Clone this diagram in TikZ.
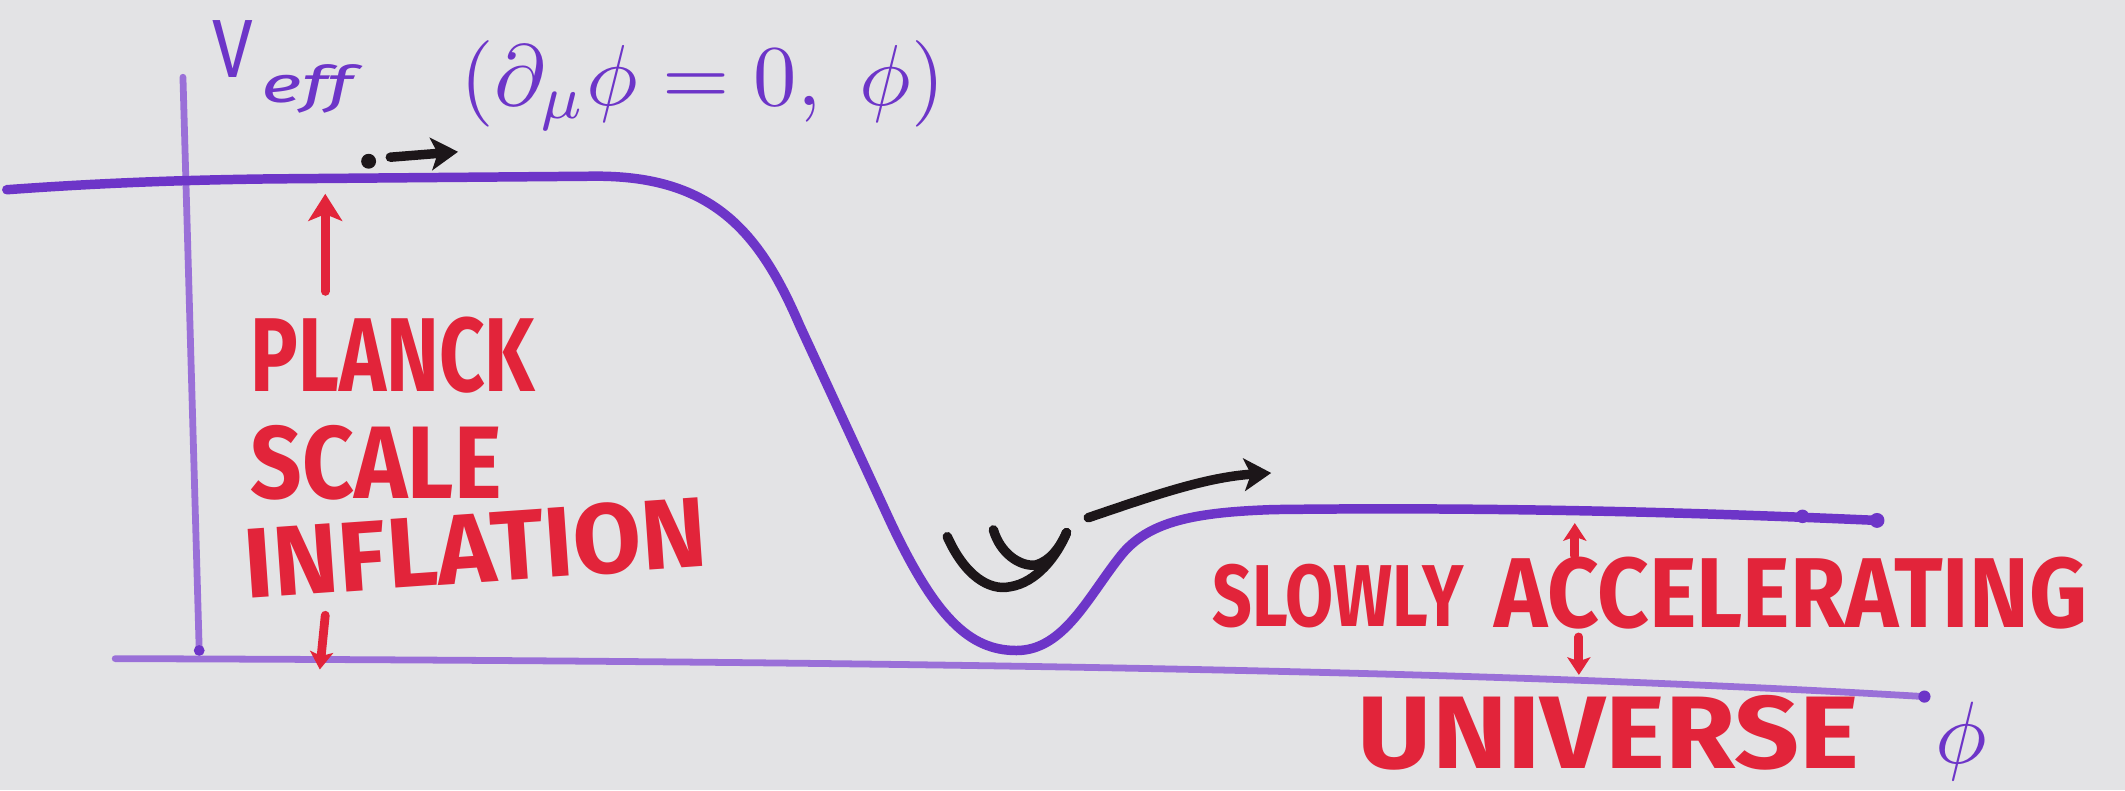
\documentclass[tikz,border=0pt]{standalone}
\usepackage{fontspec}
\setmainfont{Fira Sans}
\usetikzlibrary{arrows.meta}
\definecolor{paper}{HTML}{E3E3E5}
\definecolor{mviolet}{HTML}{6D35C8}
\definecolor{maxis}{HTML}{9A70D8}
\definecolor{mred}{HTML}{E2243A}
\definecolor{mblack}{HTML}{1C1619}
\newcommand{\hw}[3]{\resizebox{#1pt}{#2pt}{\bfseries #3}}
\tikzset{
  curve/.style={draw=mviolet, line width=7pt, line cap=round, line join=round},
  axisline/.style={draw=maxis, line width=5pt, line cap=round},
  blk/.style={draw=mblack, line width=7pt, line cap=round, line join=round},
  blackarrow/.style={blk, -{Stealth[length=20pt,width=24pt,inset=5pt]}},
  redarrow/.style={draw=mred, line width=6.5pt, line cap=round, -{Stealth[length=20pt,width=25pt,inset=5pt]}},
  redsmall/.style={draw=mred, line width=6.5pt, line cap=round, -{Stealth[length=13pt,width=17pt,inset=3pt]}},
  lbl/.style={inner sep=0pt, outer sep=0pt, text=mred},
  plbl/.style={inner sep=0pt, outer sep=0pt, text=mviolet}
}
\begin{document}
\begin{tikzpicture}[x=1pt,y=-1pt]
\fill[paper] (0,0) rectangle (1568,583);
\useasboundingbox (0,0) rectangle (1568,583);

% axes
\coordinate (vt) at (135,57);
\coordinate (vb) at (147,480);
\draw[axisline] (vt) -- (vb);
\fill[mviolet] (vb) circle (4);
\coordinate (hl) at (85,486);
\coordinate (hr) at (1420,514);
\draw[axisline] (hl) .. controls (700,488) and (1100,495) .. (hr);
\fill[mviolet] (hr) circle (4.5);

% potential curve
\coordinate (c0) at (5,140);
\coordinate (c1) at (1385,384);
\draw[curve] (c0) .. controls (60,136) and (120,133) .. (200,132) -- (440,130)
  .. controls (525,130) and (560,170) .. (590,240) -- (657,385)
  .. controls (690,455) and (715,480) .. (750,480)
  .. controls (785,480) and (803,440) .. (827,410)
  .. controls (847,385) and (880,378) .. (940,376)
  .. controls (1100,374) and (1250,378) .. (c1);
\fill[mviolet] (1330,381) circle (5);
\fill[mviolet] (c1) circle (5.5);

% labels in purple
\node[plbl, anchor=north west] (V) at (157,15) {\resizebox{30pt}{42pt}{$\mathrm{V}$}};
\node[plbl, anchor=north west] (eff) at (193,48) {\resizebox{68pt}{28pt}{$\mathit{eff}$}};
\node[plbl, anchor=north west] (cond) at (340,30) {\resizebox{357pt}{!}{$(\partial_{\mu}\phi=0,\;\phi)$}};
\node[plbl, anchor=north west] (phi) at (1428,518) {\resizebox*{38pt}{58pt}{$\phi$}};

% black arrows
\coordinate (d0) at (272,119);
\fill[mblack] (d0) circle (5.5);
\coordinate (a0) at (288,116);
\coordinate (a1) at (338,112);
\draw[blackarrow] (a0) -- (a1);

\coordinate (s0) at (699,396);
\coordinate (s1) at (787,393);
\draw[blk] (s0) .. controls (712,425) and (730,436) .. (745,433) .. controls (765,430) and (780,410) .. (s1);
\coordinate (s2) at (733,391);
\draw[blk] (s2) .. controls (738,408) and (752,418) .. (764,417) .. controls (775,414) and (782,404) .. (s1);

\coordinate (b0) at (803,382);
\coordinate (b1) at (938,349);
\draw[blackarrow] (b0) .. controls (850,366) and (890,352) .. (b1);

% red text
\node[lbl, anchor=north west] (planck) at (185,234) {\hw{210}{55}{PLANCK}};
\node[lbl, anchor=north west] (scale) at (185,314) {\hw{185}{54}{SCALE}};
\node[lbl, anchor=south west, rotate=4] (infl) at (182,443) {\hw{342}{52}{INFLATION}};
\node[lbl, anchor=north west] (slowly) at (895,416) {\hw{185}{46}{SLOWLY}};
\node[lbl, anchor=north west] (accel) at (1103,411) {\hw{437}{52}{ACCELERATING}};
\node[lbl, anchor=north west] (univ) at (1002,513) {\hw{370}{54}{UNIVERSE}};

% red arrows
\coordinate (p0) at (240,215);
\coordinate (p1) at (240,143);
\draw[redarrow] (p0) -- (p1);
\coordinate (p2) at (240,454);
\coordinate (p3) at (236,494);
\draw[redsmall] (p2) -- (p3);
\coordinate (u0) at (1162,410);
\coordinate (u1) at (1162,386);
\draw[redsmall] (u0) -- (u1);
\coordinate (u2) at (1165,470);
\coordinate (u3) at (1165,498);
\draw[redsmall] (u2) -- (u3);
\end{tikzpicture}
\end{document}
